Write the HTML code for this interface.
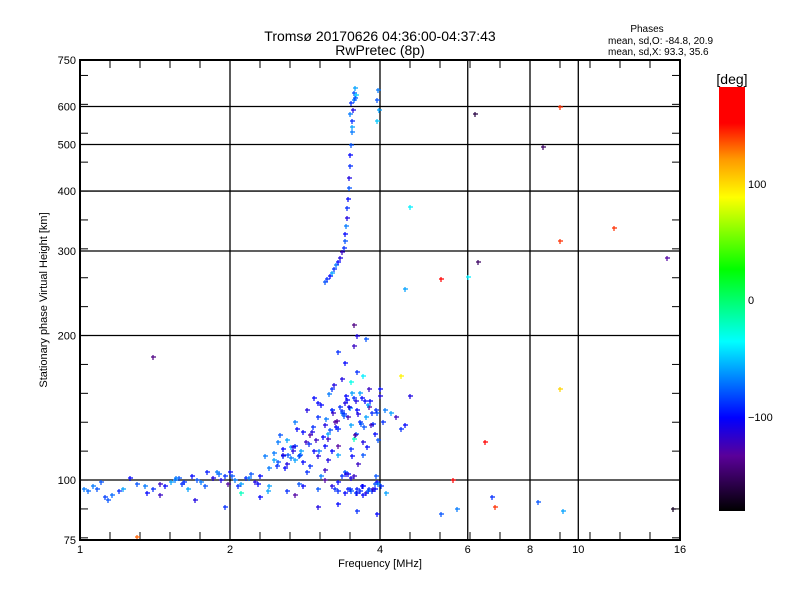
<!DOCTYPE html>
<html><head><meta charset="utf-8"><style>
html,body{margin:0;padding:0;background:#fff;}
svg{display:block;font-family:"Liberation Sans",sans-serif;}
</style></head><body>
<svg id="chart" width="800" height="600" viewBox="0 0 800 600">
<rect x="0" y="0" width="800" height="600" fill="#fff"/>
<defs><linearGradient id="cb" x1="0" y1="0" x2="0" y2="1">
<stop offset="0" stop-color="#ff0000"/><stop offset="0.085" stop-color="#ff0000"/>
<stop offset="0.17" stop-color="#ff9900"/><stop offset="0.26" stop-color="#ffff00"/>
<stop offset="0.43" stop-color="#00ff00"/><stop offset="0.60" stop-color="#00ffff"/>
<stop offset="0.78" stop-color="#0000ff"/><stop offset="0.87" stop-color="#5a0099"/>
<stop offset="1" stop-color="#000000"/></linearGradient></defs>
<text x="380" y="41" font-size="14" text-anchor="middle">Tromsø 20170626 04:36:00-04:37:43</text>
<text x="380" y="55" font-size="14" text-anchor="middle">RwPretec (8p)</text>
<text x="647" y="32" font-size="10" text-anchor="middle">Phases</text>
<text x="608" y="44" font-size="10">mean, sd,O: -84.8, 20.9</text>
<text x="608" y="55" font-size="10">mean, sd,X:  93.3, 35.6</text>
<g id="grid"></g>
<g id="ticks"></g>
<g id="marks"></g>
<rect x="80" y="60" width="600" height="480" fill="none" stroke="#000" stroke-width="2"/>
<g id="labels"></g>
<text x="380" y="567" font-size="11" text-anchor="middle">Frequency [MHz]</text>
<text x="0" y="0" font-size="11" text-anchor="middle" transform="translate(47,300) rotate(-90)">Stationary phase Virtual Height [km]</text>
<rect x="719" y="87" width="26" height="424" fill="url(#cb)"/>
<text x="732" y="84" font-size="14" text-anchor="middle">[deg]</text>
<text x="748" y="188" font-size="11">100</text>
<text x="748" y="304" font-size="11">0</text>
<text x="748" y="421" font-size="11">−100</text>
</svg>
<script>
const freqs=[1.02,1.04,1.06,1.08,1.12,1.14,1.16,1.2,1.26,1.3,1.35,1.4,1.45,1.48,1.52,1.55,1.58,1.6,1.65,1.68,1.72,1.75,1.8,1.85,1.9,1.95,1.98,2.0,2.05,2.1,2.15,2.2,2.25,2.3,2.4,2.45,2.5,2.55,2.6,2.65,2.7,2.75,2.8,2.9,3.0,3.1,3.2,3.3,3.35,3.4,3.45,3.5,3.55,3.6,3.65,3.7,3.75,3.8,3.9,3.95,2.4,2.6,2.8,3.0,3.2,3.3,3.4,3.5,3.45,3.6,3.7,3.85,1.45,1.7,1.95,2.1,2.3,2.7,3.0,3.3,3.6,3.95,
2.5,2.6,2.7,2.8,2.9,3.0,3.1,3.15,3.2,3.25,3.3,3.35,3.4,3.45,3.5,3.55,3.6,3.65,3.7,3.75,3.8,3.9,3.95,4.0,4.05,4.1,4.2,4.3,3.0,3.2,3.35,3.5,3.6,3.4,3.7,3.8,3.3,3.55,3.55,3.6,3.75,4.0,3.2,2.95,2.7,2.85,3.1,3.3,3.5,3.7,4.4,4.6,4.4,
3.1,3.13,3.17,3.2,3.24,3.27,3.3,3.33,3.36,3.38,3.4,3.41,3.42,3.43,3.44,3.45,3.46,3.47,3.48,3.49,3.5,3.51,3.52,3.53,3.54,3.55,3.56,3.5,3.58,3.52,3.57,3.49,3.95,3.98,3.95,3.97,
1.4,1.3,4.5,4.6,5.3,6.0,6.2,6.3,8.5,9.2,9.2,11.8,15.1,9.2,6.5,5.6,5.7,6.7,6.8,8.3,9.3,15.5,5.3,4.5,
3.42,3.48,3.52,3.58,3.62,3.3,3.25,3.15,3.05,2.95,2.85,2.75,2.65,2.55,3.58,3.68,3.78,3.88,3.1,3.9,
2.45,2.55,2.62,2.68,2.78,2.88,2.98,3.08,3.18,3.28,3.38,3.48,3.58,3.68,3.78,3.88,2.52,2.72,2.92,3.12,3.22,3.32,3.42,3.52,3.62,3.72,3.82,3.92,3.02,3.14,3.26,3.38,3.46,3.54,3.64,3.74,3.84,3.96,2.35,2.48,2.58,2.68,2.76,2.84,2.94,3.04,3.16,3.24,3.36,3.44,3.56,3.66,3.76,3.86,1.88,1.92,2.02,2.08,2.18,2.28,2.38,1.62,1.78,1.56,1.36,1.22,1.1,3.97,4.02,4.12,3.92];
const heights=[96,95,97,96,92,91,93,95,101,98,97,96,98,97,99,100,101,98,96,102,100,99,104,101,103,102,98,104,100,98,101,103,99,102,106,110,109,112,108,111,110,112,109,107,112,105,115,118,102,104,103,101,102,96,95,97,94,96,98,99,97,95,97,96,97,95,94,95,96,94,93,95,93,91,88,94,92,93,88,89,86,85,
120,121,118,126,124,135,130,125,140,132,128,138,145,135,130,122,140,132,120,135,142,125,138,150,132,140,138,135,145,155,162,160,168,175,165,155,185,190,210,200,197,155,140,148,132,140,118,113,116,113,128,150,165,
258,262,266,270,275,280,285,290,298,305,315,325,338,352,368,385,405,425,450,475,500,530,560,590,620,640,655,610,635,545,625,580,560,590,620,650,
180,76,250,370,262,265,580,285,495,600,315,335,290,155,120,100,87,92,88,90,86,87,85,130,
103,96,112,125,108,99,96,110,102,115,104,98,117,113,94,97,95,96,100,96,
114,116,113,117,115,119,121,123,127,133,137,141,146,148,143,131,124,128,126,134,138,142,150,152,137,129,146,140,115,122,129,136,142,148,152,146,130,121,112,107,106,115,113,120,129,143,151,158,139,147,124,131,117,138,104,100,102,97,101,98,95,99,97,101,94,96,99,98,97,94,102,101];
const phases=[-70,-75,-70,-80,-85,-80,-75,-90,-100,-80,-70,-90,-120,-100,-60,-70,-80,-90,-60,-100,-80,-70,-95,-110,-75,-90,-130,-100,-70,-60,-90,-80,-110,-100,-70,-60,-80,-90,-110,-70,-60,-80,-100,-90,-110,-120,-100,-130,-90,-80,-100,-110,-120,-95,-90,-100,-110,-90,-80,-100,-60,-90,-100,-80,-110,-90,-100,-80,-95,-110,-100,-90,-120,-110,-90,-20,-100,-130,-110,-100,-90,-100,
-70,-60,-90,-100,-130,-90,-110,-60,-100,-130,-90,-70,-110,-120,-60,-20,-100,-90,-110,-60,-130,-100,-80,-110,-90,-70,-60,-120,-100,-90,-110,-30,-90,-100,-40,-120,-90,-120,-140,-110,-80,-100,-90,-100,-70,-110,-100,-60,-90,-80,-90,-110,90,
-80,-90,-100,-60,-90,-70,-100,-110,-120,-90,-80,-100,-70,-110,-90,-100,-80,-110,-90,-100,-80,-70,-90,-110,-70,-80,-60,-90,-50,-60,-80,-70,-50,-60,-80,-70,
-140,130,-60,-40,150,-40,-160,-150,-150,140,140,140,-130,100,150,170,-70,-90,140,-80,-60,-170,-80,-100,
-110,-90,-100,-80,-120,-100,-90,-110,-70,-100,-90,-80,-60,-110,-90,-100,-80,-120,-130,-100,
-70,-100,-80,-110,-60,-90,-120,-100,-80,-130,-90,-70,-110,-100,-60,-90,-80,-100,-110,-70,-120,-90,-100,-60,-110,-80,-100,-90,-70,-120,-100,-80,-110,-90,-60,-100,-120,-80,-70,-90,-100,-110,-80,-120,-90,-100,-70,-110,-90,-100,-130,-80,-100,-90,-70,-110,-80,-90,-70,-100,-60,-90,-80,-70,-100,-60,-80,-70,-90,-60,-80,-100];
const xTickLabels=["1","2","4","6","8","10","16"];
const xTickValues=[1,2,4,6,8,10,16];
const yTickLabels=["75","100","200","300","400","500","600","750"];
const yTickValues=[75,100,200,300,400,500,600,750];
const X0=80,X1=680,Y0=540,Y1=60;
function xs(f){return X0+(X1-X0)*Math.log(f)/Math.log(16);}
function ys(h){return Y0-(Y0-Y1)*Math.log10(h/75);}
const stops=[[0,[255,0,0]],[0.085,[255,0,0]],[0.17,[255,153,0]],[0.26,[255,255,0]],[0.43,[0,255,0]],[0.6,[0,255,255]],[0.78,[0,0,255]],[0.87,[90,0,153]],[1,[0,0,0]]];
function col(v){let t=Math.min(1,Math.max(0,(180-v)/360));
for(let i=1;i<stops.length;i++){if(t<=stops[i][0]){const a=stops[i-1],b=stops[i];const u=(t-a[0])/(b[0]-a[0]||1);
const c=a[1].map((x,k)=>Math.round(x+(b[1][k]-x)*u));return `rgb(${c.join(',')})`;}}return '#000';}
const NS='http://www.w3.org/2000/svg';
function mk(tag,attrs,parent){const e=document.createElementNS(NS,tag);for(const k in attrs)e.setAttribute(k,attrs[k]);parent.appendChild(e);return e;}
const grid=document.getElementById('grid'),ticks=document.getElementById('ticks'),marks=document.getElementById('marks'),labels=document.getElementById('labels');
[2,4,6,8,10].forEach(v=>{const l=mk('line',{x1:xs(v),x2:xs(v),y1:Y1,y2:Y0,stroke:'#000','stroke-width':1.3},grid);

});
[100,200,300,400,500,600].forEach(v=>{const l=mk('line',{x1:X0,x2:X1,y1:ys(v),y2:ys(v),stroke:'#000','stroke-width':1.3},grid);

});
for(let k=1;k<20;k++){const x=X0+30*k;
const a=mk('line',{x1:x,x2:x,y1:Y0,y2:Y0-8,stroke:'#000'},ticks);


const b=mk('line',{x1:x,x2:x,y1:Y1,y2:Y1+8,stroke:'#000'},ticks);

}
for(let k=-2;k<17;k++){const h=100*Math.pow(2,k/5);if(h<=75||h>=750)continue;const y=ys(h);
const a=mk('line',{x1:X0,x2:X0+8,y1:y,y2:y,stroke:'#000'},ticks);


const b=mk('line',{x1:X1,x2:X1-8,y1:y,y2:y,stroke:'#000'},ticks);

}
xTickValues.forEach((v,i)=>{const t=mk('text',{x:xs(v),y:553,'font-size':11,'text-anchor':'middle'},labels);t.textContent=xTickLabels[i];

});
yTickValues.forEach((v,i)=>{const t=mk('text',{x:76,y:ys(v)+4,'font-size':11,'text-anchor':'end'},labels);t.textContent=yTickLabels[i];

});
freqs.forEach((f,i)=>{const x=Math.round(xs(f)),y=Math.round(ys(heights[i]));const c=col(phases[i]);
const p=mk('path',{d:`M${x-2} ${y}h5M${x} ${y-2}v5`,stroke:c,'stroke-width':1.2,fill:'none'},marks);

});
</script>
</body></html>
